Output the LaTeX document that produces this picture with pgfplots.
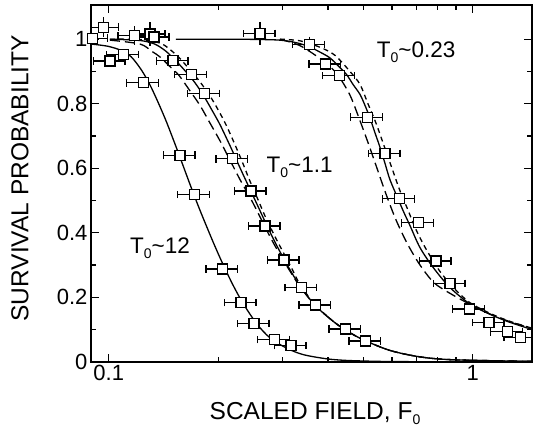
\documentclass[border=0pt]{standalone}
\usepackage{fontspec}
\setmainfont{Liberation Sans}
\usepackage{pgfplots}
\usepackage{pgfplotstable}
\pgfplotsset{compat=1.18}
\newcommand{\sub}[1]{\raisebox{-5pt}{\fontsize{14}{14}\selectfont #1}}

% measured points (x = scaled field, y = survival probability, ex = relative x error)
\pgfplotstableread{
x y ex
0.09009 1.003 0.1
0.10076 0.932 0.1
0.10960 0.953 0.1
0.12441 0.865 0.1
0.15689 0.640 0.1
0.17173 0.519 0.1
0.20557 0.287 0.1
0.23074 0.183 0.1
0.25055 0.119 0.1
0.28489 0.069 0.1
0.31663 0.050 0.1
}\ptsA
\pgfplotstableread{
x y ex
0.09683 1.037 0.1
0.11780 1.011 0.1
0.12980 1.016 0.1
0.13312 1.007 0.1
0.15011 0.933 0.1
0.16851 0.891 0.1
0.18323 0.832 0.1
0.21900 0.629 0.1
0.24583 0.529 0.1
0.26862 0.421 0.1
0.30292 0.315 0.1
0.33878 0.230 0.1
0.37008 0.176 0.1
0.44750 0.101 0.1
0.50792 0.064 0.1
}\ptsB
\pgfplotstableread{
x y ex
0.26023 1.018 0.1
0.35546 0.984 0.1
0.39431 0.923 0.1
0.42976 0.887 0.1
0.51308 0.758 0.1
0.57391 0.646 0.1
0.62838 0.505 0.1
0.70837 0.431 0.1
0.79226 0.312 0.1
0.86570 0.243 0.1
0.97810 0.163 0.1
1.10799 0.122 0.1
1.24396 0.093 0.1
1.35413 0.076 0.1
}\ptsC
\pgfplotstableread{
x y ey
0.09683 1.037 0.020
0.11780 1.011 0.018
0.12980 1.016 0.025
0.26023 1.018 0.025
0.35546 0.984 0.013
}\ptsY

% curves
\pgfplotstableread{
x y
0.08936 0.985
0.09949 0.978
0.10822 0.965
0.11532 0.945
0.12285 0.905
0.12955 0.860
0.13652 0.805
0.14388 0.745
0.15323 0.665
0.16158 0.595
0.16846 0.540
0.17801 0.470
0.19369 0.370
0.20636 0.300
0.21981 0.236
0.23414 0.180
0.25485 0.118
0.27725 0.074
0.30813 0.042
0.34222 0.022
0.39682 0.009
0.45034 0.004
0.55599 0.001
0.71602 0.000
}\cTwelve
\pgfplotstableread{
x y
0.10076 1.000
0.12184 0.996
0.13365 0.985
0.14270 0.965
0.15011 0.942
0.15884 0.913
0.16846 0.880
0.17577 0.852
0.18372 0.818
0.19210 0.780
0.20209 0.735
0.21528 0.670
0.22220 0.636
0.23222 0.588
0.24426 0.535
0.25695 0.482
0.26862 0.435
0.28434 0.377
0.30156 0.322
0.31664 0.280
0.33515 0.235
0.36862 0.175
0.41378 0.125
0.45034 0.096
0.50024 0.068
0.59224 0.035
0.71602 0.015
0.88406 0.006
1.45450 0.001
}\cOneS
\pgfplotstableread{
x y
0.10076 0.997
0.12184 0.985
0.13145 0.962
0.13826 0.945
0.14733 0.915
0.15588 0.888
0.16711 0.840
0.17801 0.795
0.18970 0.740
0.20209 0.685
0.21528 0.625
0.22930 0.565
0.24426 0.510
0.25695 0.462
0.26862 0.418
0.28434 0.365
0.30156 0.315
0.31664 0.276
0.33515 0.233
0.36862 0.175
0.41378 0.125
0.45034 0.096
0.50024 0.068
0.59224 0.035
0.71602 0.015
0.88406 0.006
1.45450 0.001
}\cOneL
\pgfplotstableread{
x y
0.10076 1.000
0.12184 0.999
0.13826 0.988
0.14733 0.968
0.15689 0.940
0.16710 0.905
0.17801 0.868
0.18969 0.824
0.19953 0.782
0.20989 0.735
0.22079 0.680
0.23222 0.622
0.24426 0.560
0.25695 0.503
0.27033 0.445
0.28614 0.388
0.30292 0.335
0.31865 0.288
0.33513 0.240
0.36862 0.177
0.41378 0.125
0.45034 0.096
0.50024 0.068
0.59224 0.035
0.71602 0.015
0.88406 0.006
1.45450 0.001
}\cOneD
\pgfplotstableread{
x y
0.15294 1.000
0.21528 1.000
0.26023 0.999
0.29533 0.997
0.32475 0.990
0.35324 0.978
0.38035 0.960
0.40518 0.942
0.42893 0.915
0.45034 0.890
0.46864 0.860
0.48986 0.829
0.50560 0.795
0.52186 0.756
0.53864 0.710
0.55599 0.665
0.57391 0.615
0.59201 0.565
0.62323 0.505
0.64731 0.462
0.67236 0.422
0.71602 0.354
0.77884 0.292
0.86570 0.230
0.98245 0.179
1.11500 0.147
1.26545 0.122
1.45450 0.100
}\cTS
\pgfplotstableread{
x y
0.29533 1.000
0.33513 0.980
0.38035 0.940
0.41824 0.900
0.44269 0.860
0.46275 0.820
0.48677 0.756
0.51528 0.680
0.54550 0.600
0.57755 0.520
0.61514 0.440
0.66179 0.365
0.71602 0.300
0.78231 0.245
0.86570 0.212
0.98245 0.178
1.11500 0.148
1.26545 0.124
1.45450 0.103
}\cTL
\pgfplotstableread{
x y
0.29533 1.000
0.33513 0.995
0.38035 0.975
0.41824 0.950
0.45984 0.900
0.48986 0.860
0.51528 0.800
0.54207 0.740
0.57029 0.670
0.59976 0.600
0.63096 0.530
0.66389 0.470
0.69807 0.410
0.74364 0.350
0.81254 0.280
0.89358 0.225
0.98245 0.183
1.11500 0.150
1.26545 0.125
1.45450 0.104
}\cTD

\begin{document}
\begin{tikzpicture}
\begin{axis}[
  scale only axis,
  width=441pt, height=356.7pt,
  xmode=log, log basis x=10,
  xmin=0.08936, xmax=1.4545,
  ymin=0, ymax=1.106,
  xtick={0.1,1}, xticklabels={0.1,1},
  minor xtick={0.2,0.3,0.4,0.5,0.6,0.7,0.8,0.9},
  ytick={0,0.2,0.4,0.6,0.8,1}, yticklabels={0,0.2,0.4,0.6,0.8,1},
  minor ytick={0.1,0.3,0.5,0.7,0.9},
  tick align=inside,
  major tick length=8pt, minor tick length=5pt,
  tick style={black, line width=1.3pt},
  axis line style={line width=1.6pt},
  tick label style={font=\fontsize{22}{26}\selectfont},
  xlabel={SCALED FIELD, F\sub{0}},
  ylabel={SURVIVAL PROBABILITY},
  every axis x label/.style={at={(axis description cs:0.508,-0.1615)}, anchor=base, font=\fontsize{24.5}{28}\selectfont},
  every axis y label/.style={at={(axis description cs:-0.1422,0.514)}, rotate=90, anchor=base, font=\fontsize{24.5}{28}\selectfont},
  clip mode=individual,
]
% curves
\addplot[black, line width=1.3pt, smooth] table[x=x,y=y] {\cTwelve};
\addplot[black, line width=1.3pt, smooth] table[x=x,y=y] {\cOneS};
\addplot[black, line width=1.3pt, smooth, dash pattern=on 10pt off 5pt] table[x=x,y=y] {\cOneL};
\addplot[black, line width=1.3pt, smooth, dash pattern=on 5pt off 4pt] table[x=x,y=y] {\cOneD};
\addplot[black, line width=1.3pt, smooth] table[x=x,y=y] {\cTS};
\addplot[black, line width=1.3pt, smooth, dash pattern=on 10pt off 5pt] table[x=x,y=y] {\cTL};
\addplot[black, line width=1.3pt, smooth, dash pattern=on 5pt off 4pt] table[x=x,y=y] {\cTD};
% vertical error bars of a few points
\addplot[draw=none, mark=none, forget plot,
  error bars/.cd, y dir=both, y explicit, error mark=-,
  error bar style={draw=black, solid, line width=1.3pt},
  error mark options={draw=black, mark size=3.5pt, line width=1.3pt}]
  table[x=x, y=y, y error=ey] {\ptsY};
% data points with horizontal error bars
\pgfplotsset{ptstyle/.style={only marks, mark=square*, mark size=5pt,
  mark options={fill=white, draw=black, line width=1.3pt, solid},
  error bars/.cd, x dir=both, x explicit relative, error mark=|,
  error bar style={draw=black, solid, line width=1.3pt},
  error mark options={draw=black, mark size=3.8pt, line width=1.3pt}}}
\addplot[ptstyle] table[x=x, y=y, x error=ex] {\ptsA};
\addplot[ptstyle] table[x=x, y=y, x error=ex] {\ptsB};
\addplot[ptstyle] table[x=x, y=y, x error=ex] {\ptsC};
% labels
\node[anchor=base west, inner sep=0pt, font=\fontsize{22.5}{26}\selectfont] at (axis cs:0.5445,0.944) {T\sub{0}\textasciitilde0.23};
\node[anchor=base west, inner sep=0pt, font=\fontsize{22.5}{26}\selectfont] at (axis cs:0.2712,0.588) {T\sub{0}\textasciitilde1.1};
\node[anchor=base west, inner sep=0pt, font=\fontsize{22.5}{26}\selectfont] at (axis cs:0.11437,0.334) {T\sub{0}\textasciitilde12};
\coordinate (bbsw) at (rel axis cs:-0.2063,-0.1915);
\coordinate (bbne) at (rel axis cs:1.00227,1.0140);
\end{axis}
\pgfresetboundingbox
\path (bbsw) rectangle (bbne);
\end{tikzpicture}
\end{document}
